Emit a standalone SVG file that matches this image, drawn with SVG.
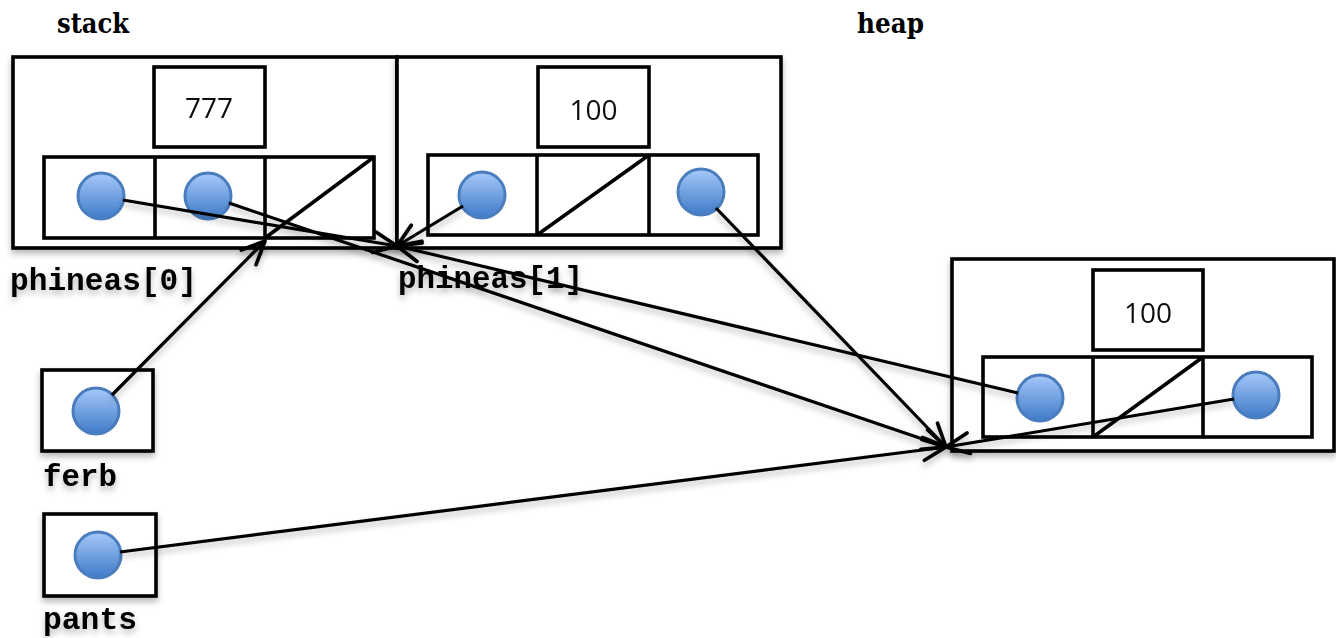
<svg xmlns="http://www.w3.org/2000/svg" width="1336" height="638" viewBox="0 0 1336 638">
<defs>
  <linearGradient id="ball" x1="0" y1="0" x2="0" y2="1">
    <stop offset="0" stop-color="#a6c9fa"/>
    <stop offset="1" stop-color="#3f7ac8"/>
  </linearGradient>
  <filter id="sh" x="-10%" y="-10%" width="130%" height="140%">
    <feDropShadow dx="0" dy="4" stdDeviation="3" flood-color="#000" flood-opacity="0.28"/>
  </filter>
  <marker id="arr" markerUnits="userSpaceOnUse" markerWidth="30" markerHeight="30" viewBox="-22 -11 26 22" refX="0" refY="0" orient="auto" overflow="visible">
    <path d="M-20,-9 L0,0 L-20,9" fill="none" stroke="#000" stroke-width="3.2" stroke-linecap="round" stroke-linejoin="round"/>
  </marker>
</defs>
<style>
  .box{fill:#fff;stroke:#000;stroke-width:3.6}
  .cell{fill:none;stroke:#000;stroke-width:3.6}
  .ball{fill:url(#ball);stroke:#4a7dbd;stroke-width:3}
  .num{font-family:"Open Sans","Liberation Sans",sans-serif;font-size:28px;fill:#111;text-anchor:middle}
  .title{font-family:"DejaVu Serif","Liberation Serif",serif;font-weight:bold;font-size:28px;fill:#000}
  .var{font-family:"Liberation Mono","Courier New",monospace;font-weight:bold;font-size:31px;fill:#000}
  .conn line{stroke:#000;stroke-width:3.2;marker-end:url(#arr)}
</style>
<rect width="1336" height="638" fill="#fff"/>
<g id="labels">
  <text class="title" x="57" y="33" textLength="72" lengthAdjust="spacingAndGlyphs">stack</text>
  <text class="title" x="857" y="33" textLength="67" lengthAdjust="spacingAndGlyphs">heap</text>
</g>
<g id="phineas0" filter="url(#sh)">
  <rect class="box" x="13" y="57" width="384" height="191"/>
  <rect class="box" x="154" y="67" width="111" height="80"/>
  <rect class="box" x="44" y="157" width="330" height="81"/>
  <line class="cell" x1="155" y1="157" x2="155" y2="238"/>
  <line class="cell" x1="265" y1="157" x2="265" y2="238"/>
  <line class="cell" x1="265" y1="238" x2="374" y2="157"/>
  <text class="num" x="209" y="118">777</text>
  <circle class="ball" cx="101" cy="196" r="23"/>
  <circle class="ball" cx="208" cy="196" r="23"/>
  <text class="var" x="10" y="290" textLength="187" lengthAdjust="spacingAndGlyphs">phineas[0]</text>
</g>
<g id="phineas1" filter="url(#sh)">
  <rect class="box" x="397" y="57" width="384" height="191"/>
  <rect class="box" x="538" y="67" width="111" height="80"/>
  <rect class="box" x="428" y="155" width="330" height="80"/>
  <line class="cell" x1="537" y1="155" x2="537" y2="235"/>
  <line class="cell" x1="649" y1="155" x2="649" y2="235"/>
  <line class="cell" x1="537" y1="235" x2="649" y2="155"/>
  <text class="num" x="593.5" y="120">100</text>
  <circle class="ball" cx="482" cy="195" r="23"/>
  <circle class="ball" cx="701" cy="192" r="23"/>
  <text class="var" x="398" y="288" textLength="185" lengthAdjust="spacingAndGlyphs">phineas[1]</text>
</g>
<g id="heapobj" filter="url(#sh)">
  <rect class="box" x="952" y="259" width="382" height="192"/>
  <rect class="box" x="1093" y="270" width="110" height="80"/>
  <rect class="box" x="983" y="357" width="329" height="80"/>
  <line class="cell" x1="1093" y1="357" x2="1093" y2="437"/>
  <line class="cell" x1="1203" y1="357" x2="1203" y2="437"/>
  <line class="cell" x1="1093" y1="437" x2="1203" y2="357"/>
  <text class="num" x="1148" y="323">100</text>
  <circle class="ball" cx="1040" cy="398" r="23"/>
  <circle class="ball" cx="1256" cy="395" r="23"/>
</g>
<g id="ferb" filter="url(#sh)">
  <rect class="box" x="42" y="370" width="111" height="81"/>
  <circle class="ball" cx="96" cy="411" r="23"/>
  <text class="var" x="43" y="486" textLength="74" lengthAdjust="spacingAndGlyphs">ferb</text>
</g>
<g id="pants" filter="url(#sh)">
  <rect class="box" x="44" y="514" width="112" height="82"/>
  <circle class="ball" cx="98" cy="555" r="23"/>
  <text class="var" x="43" y="629" textLength="94" lengthAdjust="spacingAndGlyphs">pants</text>
</g>
<g id="connectors" class="conn" filter="url(#sh)">
  <line x1="112" y1="395" x2="265" y2="241"/>
  <line x1="123" y1="200" x2="397" y2="246"/>
  <line x1="229" y1="203" x2="946" y2="447"/>
  <line x1="463" y1="206" x2="397" y2="246"/>
  <line x1="716" y1="208" x2="946" y2="447"/>
  <line x1="1018" y1="393" x2="397" y2="246"/>
  <line x1="1234" y1="399" x2="946" y2="447"/>
  <line x1="120" y1="552" x2="946" y2="447"/>
</g>
</svg>
